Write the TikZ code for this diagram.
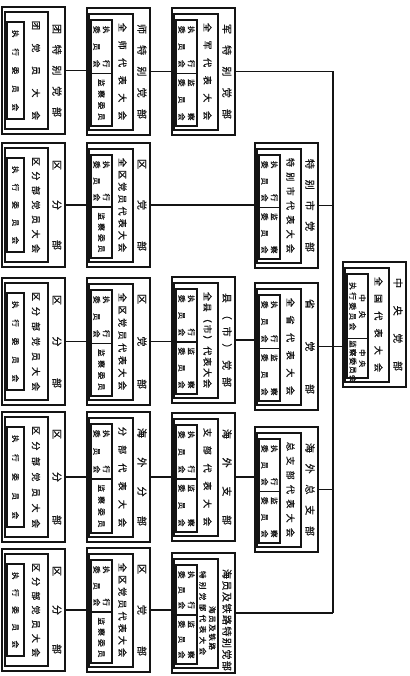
\documentclass[tikz,border=0pt]{standalone}
\usepackage{fontspec}
\newfontfamily\cjk[FakeBold=0.8]{Noto Sans CJK SC}
\usetikzlibrary{calc}
\definecolor{ink}{HTML}{141414}
\newcommand{\spr}[2]{\makebox[#1][s]{#2}}
\tikzset{
  chart/.style={x=1pt, y=-1pt, line join=miter, font=\cjk},
  unit/.style={draw=ink, line width=1.4pt, rectangle, inner sep=0pt, minimum width=63pt},
  inbox/.style={draw=ink, line width=1.1pt},
  link/.style={draw=ink, line width=1.5pt},
  vtitle/.style={rotate=-90, inner sep=0pt, text=ink, font=\cjk\fontsize{10}{10}\selectfont},
  vmeet/.style={rotate=-90, inner sep=0pt, align=center, text=ink, font=\cjk\fontsize{9}{9}\selectfont},
  vsub/.style={rotate=-90, inner sep=0pt, align=center, text=ink, font=\cjk\fontsize{7.5}{9.5}\selectfont},
}

\begin{document}
\begin{tikzpicture}[chart]
  \useasboundingbox (0,0) rectangle (409,676);

  % lowest level: title, meeting, one committee
  \newcommand{\fenbox}[7]{% name, left, top, bottom, title, meeting, committee
    \pgfmathsetmacro{\bxh}{#4-#3}
    \pgfmathsetmacro{\bxc}{(#3+#4)/2}
    \node[unit, minimum height=\bxh pt] (#1) at (#2+31.5,\bxc) {};
    \draw[inbox] (#2+3,#3+5) rectangle (#2+46,#4-5);
    \draw[inbox] (#2+5,#3+15) rectangle (#2+22,#4-15);
    \pgfmathsetmacro{\txw}{\bxh-34}
    \node[vtitle] (#1-t) at (#2+55,\bxc) {\spr{\txw pt}{#5}};
    \pgfmathsetmacro{\txw}{\bxh-28}
    \node[vmeet] (#1-m) at (#2+34,\bxc) {\spr{\txw pt}{#6}};
    \pgfmathsetmacro{\txw}{\bxh-46}
    \node[vsub] (#1-c) at (#2+13.5,\bxc) {\spr{\txw pt}{#7}};
  }

  % upper levels: title, meeting, two committees
  \def\splitoff{2}
  \newcommand{\dangbox}[8]{% name, left, top, bottom, title, meeting, upper, lower
    \pgfmathsetmacro{\bxh}{#4-#3}
    \pgfmathsetmacro{\bxc}{(#3+#4)/2}
    \pgfmathsetmacro{\bxs}{\bxc+\splitoff}
    \node[unit, minimum height=\bxh pt] (#1) at (#2+31.5,\bxc) {};
    \draw[inbox] (#2+2,#3+6) rectangle (#2+46,#4-5);
    \draw[inbox] (#2+4,#3+12) rectangle (#2+25,\bxs);
    \draw[inbox] (#2+4,\bxs) rectangle (#2+25,#4-9);
    \pgfmathsetmacro{\txw}{\bxh-32}
    \node[vtitle] (#1-t) at (#2+55,\bxc) {\spr{\txw pt}{#5}};
    \pgfmathsetmacro{\txw}{\bxh-30}
    \node[vmeet] (#1-m) at (#2+35.5,\bxc) {\spr{\txw pt}{#6}};
    \pgfmathsetmacro{\sbw}{0.5*\bxh-22}
    \node[vsub] (#1-u) at (#2+14.5,{(#3+12+\bxs)/2}) {#7};
    \node[vsub] (#1-l) at (#2+14.5,{(\bxs+#4-9)/2}) {#8};
  }
  \newcommand{\twoln}[2]{\spr{\sbw pt}{#1}\\\spr{\sbw pt}{#2}}
  \newcommand{\oneln}[1]{\spr{\sbw pt}{#1}}

  % root
  \def\splitoff{14}
  \dangbox{zy}{343}{262}{387}{中 央 党 部}{全 国 代 表 大 会}
    {\spr{24pt}{中 央}\\\spr{48pt}{执 行 委 员 会}}
    {\fontsize{7}{9}\selectfont\spr{18pt}{中 央}\\\spr{36pt}{监 察 委 员 会}}
  \def\splitoff{2}

  % second level
  \dangbox{tbs}{255}{143}{268}{特 别 市 党 部}{特 别 市 代 表 大 会}
    {\twoln{执 行}{委 员 会}}{\twoln{监 察}{委 员 会}}
  \dangbox{sheng}{255}{283}{410}{省 党 部}{全 省 代 表 大 会}
    {\twoln{执 行}{委 员 会}}{\twoln{监 察}{委 员 会}}
  \dangbox{hwz}{255}{427}{552}{海 外 总 支 部}{总 支 部 代 表 大 会}
    {\twoln{执 行}{委 员 会}}{\twoln{监 察}{委 员 会}}

  % third level
  \dangbox{jun}{172}{8}{135}{军 特 别 党 部}{全 军 代 表 大 会}
    {\twoln{执 行}{委 员 会}}{\twoln{监 察}{委 员 会}}
  \dangbox{xian}{172}{277}{403}{县 （ 市 ） 党 部}{全 县 （ 市 ） 代 表 大 会}
    {\twoln{执 行}{委 员 会}}{\twoln{监 察}{委 员 会}}
  \dangbox{hwzb}{172}{413}{541}{海 外 支 部}{支 部 代 表 大 会}
    {\twoln{执 行}{委 员 会}}{\twoln{监 察}{委 员 会}}
  \dangbox{hyt}{172}{553}{673}{海 员 及 铁 路 特 别 党 部}{}
    {\twoln{执 行}{委 员 会}}{\twoln{监 察}{委 员 会}}
  \node[vsub] (hyt-m2) at (207.5,613)
    {\hspace*{30pt}\spr{44pt}{海 员 及 铁 路}\\\spr{84pt}{特 别 党 部 代 表 大 会}};

  % fourth level
  \dangbox{shi}{87}{8}{135}{师 特 别 党 部}{全 师 代 表 大 会}
    {\twoln{执 行}{委 员 会}}{\oneln{监 察 委 员}}
  \dangbox{qu2}{87}{143}{267}{区 党 部}{全 区 党 员 代 表 大 会}
    {\twoln{执 行}{委 员 会}}{\oneln{监 察 委 员}}
  \dangbox{qu3}{87}{278}{405}{区 党 部}{全 区 党 员 代 表 大 会}
    {\twoln{执 行}{委 员 会}}{\oneln{监 察 委 员}}
  \dangbox{hwf}{87}{412}{542}{海 外 分 部}{分 部 代 表 大 会}
    {\twoln{执 行}{委 员 会}}{\oneln{监 察 委 员}}
  \dangbox{qu5}{87}{548}{672}{区 党 部}{全 区 党 员 代 表 大 会}
    {\twoln{执 行}{委 员 会}}{\oneln{监 察 委 员}}

  % lowest level
  \fenbox{tuan}{2}{7}{134}{团 特 别 党 部}{团 党 员 大 会}{执 行 委 员 会}
  \fenbox{qf2}{2}{143}{267}{区 分 部}{区 分 部 党 员 大 会}{执 行 委 员 会}
  \fenbox{qf3}{2}{278}{405}{区 分 部}{区 分 部 党 员 大 会}{执 行 委 员 会}
  \fenbox{qf4}{2}{412}{542}{区 分 部}{区 分 部 党 员 大 会}{执 行 委 员 会}
  \fenbox{qf5}{2}{549}{671}{区 分 部}{区 分 部 党 员 大 会}{执 行 委 员 会}

  % connectors
  \coordinate (trunk) at (333,0);
  \foreach \src/\dst in {tuan/shi, shi/jun, qf2/qu2, qu2/tbs, qf3/qu3, qu3/xian,
      xian/sheng, qf4/hwf, hwf/hwzb, hwzb/hwz, qf5/qu5, qu5/hyt, sheng/zy}
    \draw[link] (\src.east) -- (\src.east -| \dst.west);
  \foreach \src in {jun, tbs, hwz, hyt}
    \draw[link] (\src.east) -- (\src.east -| trunk);
  \draw[link] (jun.east -| trunk) -- (hyt.east -| trunk);
\end{tikzpicture}
\end{document}
